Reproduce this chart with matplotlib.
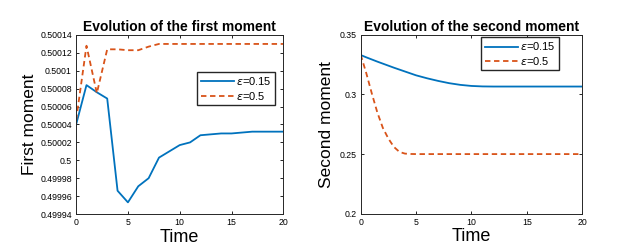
import matplotlib
matplotlib.use("Agg")
import matplotlib.pyplot as plt

plt.rcParams['font.family'] = ['Liberation Sans', 'DejaVu Sans']
plt.rcParams['mathtext.fontset'] = 'dejavusans'

# Первый момент (целые моменты времени)
time1 = list(range(0, 21))
first_015 = [0.50004, 0.500084, 0.500076, 0.500069, 0.499966, 0.499953, 0.499971,
             0.49998, 0.500003, 0.50001, 0.500017, 0.50002, 0.500028, 0.500029,
             0.50003, 0.50003, 0.500031, 0.500032, 0.500032, 0.500032, 0.500032]
first_05 = [0.500045, 0.500128, 0.500075, 0.500124, 0.500124, 0.500123, 0.500123,
            0.500127, 0.50013, 0.50013, 0.50013, 0.50013, 0.50013, 0.50013,
            0.50013, 0.50013, 0.50013, 0.50013, 0.50013, 0.50013, 0.50013]

# Второй момент
time2 = [0, 0.5, 1, 1.5, 2, 2.5, 3, 3.5, 4, 4.5, 5, 6, 7, 8, 9, 10, 11, 12, 13, 14,
         15, 16, 17, 18, 19, 20]
second_015 = [0.3330, 0.3311, 0.3293, 0.3275, 0.3258, 0.3241, 0.3224, 0.3208, 0.3192,
              0.3176, 0.3160, 0.3135, 0.3113, 0.3094, 0.3080, 0.3071, 0.3067, 0.3066,
              0.3066, 0.3066, 0.3066, 0.3066, 0.3066, 0.3066, 0.3066, 0.3066]
second_05 = [0.3333, 0.3180, 0.3010, 0.2850, 0.2720, 0.2630, 0.2560, 0.2518, 0.2504,
             0.2501, 0.2500, 0.2500, 0.2500, 0.2500, 0.2500, 0.2500, 0.2500, 0.2500,
             0.2500, 0.2500, 0.2500, 0.2500, 0.2500, 0.2500, 0.2500, 0.2500]

x_ticks = [0, 5, 10, 15, 20]
y1_ticks = [0.49994, 0.49996, 0.49998, 0.5, 0.50002, 0.50004, 0.50006, 0.50008,
            0.5001, 0.50012, 0.50014]
y1_labels = ['0.49994', '0.49996', '0.49998', '0.5', '0.50002', '0.50004', '0.50006',
             '0.50008', '0.5001', '0.50012', '0.50014']
y2_ticks = [0.2, 0.25, 0.3, 0.35]
y2_labels = ['0.2', '0.25', '0.3', '0.35']

blue = '#0072BD'
orange = '#D95319'

fig = plt.figure(figsize=(6.24, 2.5), dpi=100)
ax1 = fig.add_axes([0.122, 0.144, 0.332, 0.716])
ax2 = fig.add_axes([0.578, 0.145, 0.355, 0.716])

leg_kw = dict(fontsize=8, handlelength=3.0, fancybox=False, edgecolor='#262626',
              framealpha=1, borderpad=0.3, labelspacing=0.2, handletextpad=0.2,
              borderaxespad=0)


def style(ax):
    ax.tick_params(direction='in', top=True, right=True, labelsize=6.3,
                   length=2.5, width=0.6, pad=3)
    for s in ax.spines.values():
        s.set_linewidth(0.7)
        s.set_color('#262626')


# Левый график
ax1.plot(time1, first_015, color=blue, lw=1.3, label=r'$\epsilon$=0.15')
ax1.plot(time1, first_05, color=orange, lw=1.3, ls=(0, (3, 2)), label=r'$\epsilon$=0.5')
ax1.set_xlim(0, 20)
ax1.set_ylim(0.49994, 0.50014)
ax1.set_xticks(x_ticks)
ax1.set_yticks(y1_ticks)
ax1.set_yticklabels(y1_labels)
ax1.set_title('Evolution of the first moment', fontsize=10, fontweight='bold', pad=3)
ax1.set_xlabel('Time', fontsize=13, labelpad=1)
ax1.set_ylabel('First moment', fontsize=12.5, labelpad=2)
ax1.legend(loc='upper left', bbox_to_anchor=(0.585, 0.793), **leg_kw)
style(ax1)

# Правый график
ax2.plot(time2, second_015, color=blue, lw=1.3, label=r'$\epsilon$=0.15')
ax2.plot(time2, second_05, color=orange, lw=1.3, ls=(0, (3, 2)), label=r'$\epsilon$=0.5')
ax2.set_xlim(0, 20)
ax2.set_ylim(0.2, 0.35)
ax2.set_xticks(x_ticks)
ax2.set_yticks(y2_ticks)
ax2.set_yticklabels(y2_labels)
ax2.set_title('Evolution of the second moment', fontsize=10, fontweight='bold', pad=3)
ax2.set_xlabel('Time', fontsize=13, labelpad=1)
ax2.set_ylabel('Second moment', fontsize=12.5, labelpad=4)
ax2.legend(loc='upper right', bbox_to_anchor=(0.896, 0.987), **leg_kw)
style(ax2)

fig.savefig('out.png', dpi=100)
